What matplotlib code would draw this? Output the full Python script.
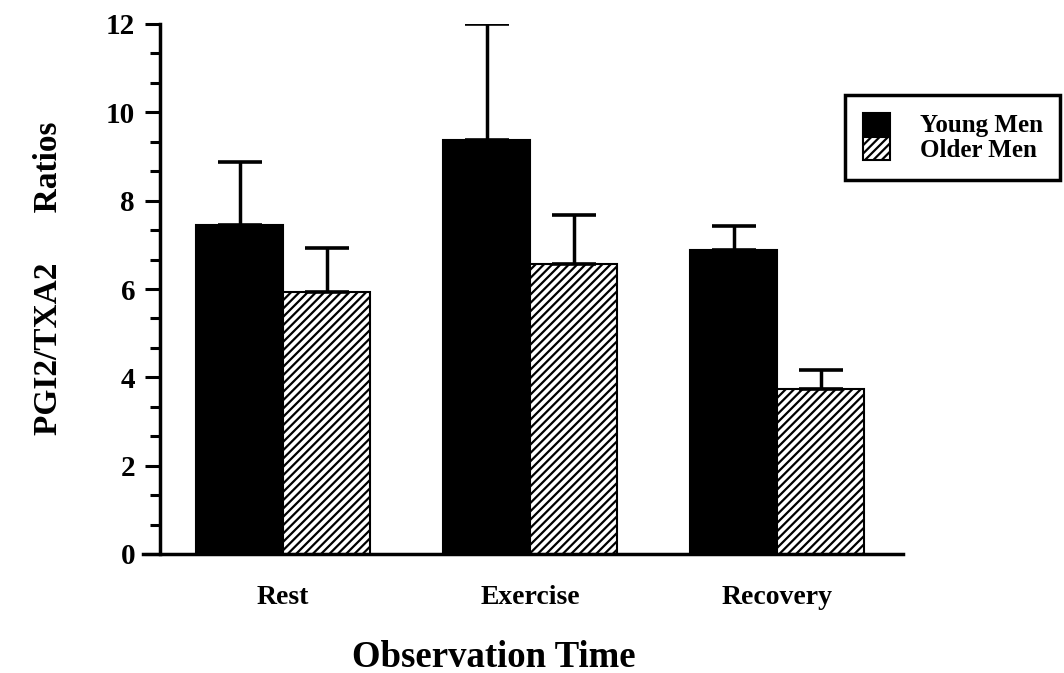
import numpy as np
import matplotlib
matplotlib.use("Agg")
import matplotlib.pyplot as plt

plt.rcParams['font.family'] = ['Liberation Serif', 'DejaVu Serif']
plt.rcParams['font.weight'] = 'bold'
plt.rcParams['axes.labelweight'] = 'bold'
plt.rcParams['hatch.linewidth'] = 1.6

# data
times = ["Rest", "Exercise", "Recovery"]
young = [7.45, 9.37, 6.88]
young_err = [1.42, 2.62, 0.55]
older = [5.93, 6.57, 3.74]
older_err = [1.0, 1.1, 0.43]
groups = ["Young Men", "Older Men"]

fig = plt.figure(figsize=(10.64, 6.73), dpi=100)
ax = fig.add_axes([143 / 1064, 119 / 673, 760 / 1064, 530 / 673])

x = np.arange(len(times))
w = 0.352

b1 = ax.bar(x - w / 2, young, w, color='black', edgecolor='black', linewidth=1.5, label=groups[0])
b2 = ax.bar(x + w / 2, older, w, color='white', edgecolor='black', hatch='////', linewidth=1.5, label=groups[1])

ax.errorbar(x - w / 2, young, yerr=[np.zeros(3), young_err], fmt='none', ecolor='black',
            elinewidth=2.5, capsize=16, capthick=2.6)
ax.errorbar(x + w / 2, older, yerr=[np.zeros(3), older_err], fmt='none', ecolor='black',
            elinewidth=2.5, capsize=16, capthick=2.6)

ax.set_xlim(-0.567, 2.51)
ax.set_ylim(0, 12)
ax.set_yticks(np.arange(0, 13, 2))
ax.set_yticks(np.arange(0, 12.01, 2 / 3), minor=True)
ax.tick_params(axis='y', which='major', direction='out', length=11, width=2.2, pad=7, labelsize=21)
ax.tick_params(axis='y', which='minor', direction='out', length=7, width=2.2)
ax.set_xticks(x)
ax.set_xticklabels(times, fontsize=20)
ax.tick_params(axis='x', length=0, pad=22)

for s in ['top', 'right']:
    ax.spines[s].set_visible(False)
ax.spines['left'].set_position(('data', -0.498))
ax.spines['left'].set_linewidth(2.5)
ax.spines['bottom'].set_linewidth(2.5)

ax.set_ylabel("PGI2/TXA2      Ratios", fontsize=24)
ax.yaxis.set_label_coords(-0.104, 0.52)
ax.set_xlabel("Observation Time", fontsize=26.5)
ax.xaxis.set_label_coords(0.462, -0.162)

leg = ax.legend(handles=[b1, b2], loc='upper left', bbox_to_anchor=(845 / 1064, 1 - 95 / 673),
                bbox_transform=fig.transFigure, borderaxespad=0, fontsize=18,
                handlelength=1.08, handleheight=1.0, labelspacing=0.0, handletextpad=1.2,
                borderpad=0.7, fancybox=False, framealpha=1)
leg.get_frame().set_edgecolor('black')
leg.get_frame().set_linewidth(2.5)

fig.savefig("out.png", dpi=100)
